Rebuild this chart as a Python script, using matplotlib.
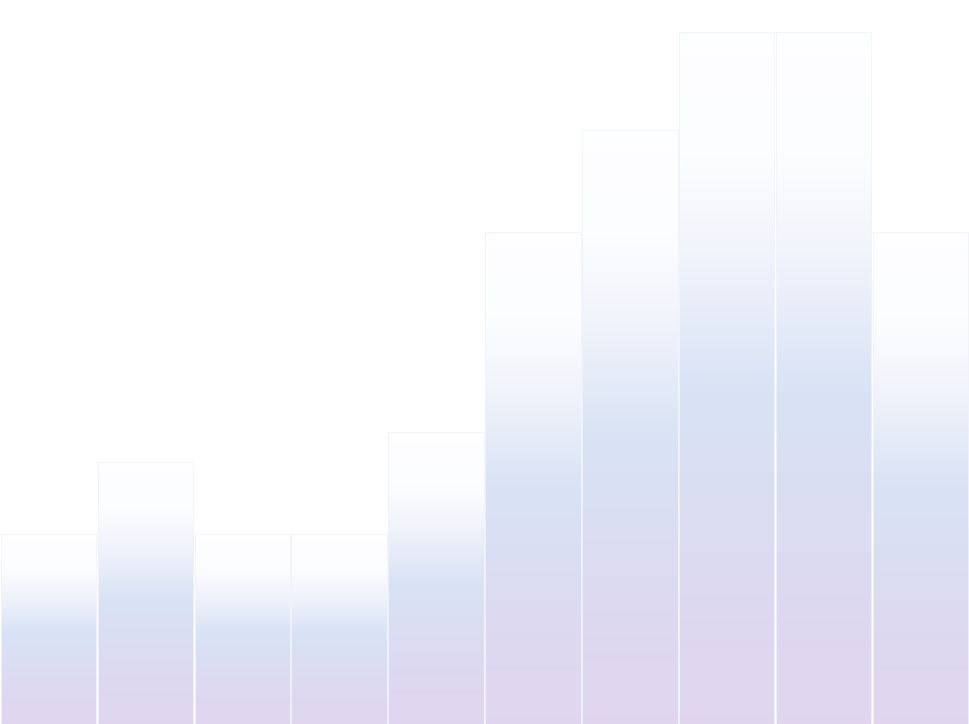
import numpy as np
import matplotlib
matplotlib.use("Agg")
import matplotlib.pyplot as plt
from matplotlib.colors import LinearSegmentedColormap

# bar values (arbitrary units)
categories = ["A", "B", "C", "D", "E", "F", "G", "H", "I", "J"]
values = [19, 26.2, 19, 19, 29.2, 49.2, 59.4, 69.2, 69.2, 49.2]
y_max = 72.4

# gradient from the top of each bar (0) down to its base (1)
grad_stops = [
    (0.0, (0.996, 0.997, 1.0, 1.0)),
    (0.18, (0.988, 0.992, 1.0, 1.0)),
    (0.32, (0.945, 0.956, 0.986, 1.0)),
    (0.52, (0.851, 0.890, 0.961, 1.0)),
    (0.75, (0.863, 0.859, 0.949, 1.0)),
    (0.9, (0.875, 0.841, 0.941, 1.0)),
    (1.0, (0.875, 0.839, 0.941, 1.0)),
]
cmap = LinearSegmentedColormap.from_list("barfade", grad_stops)

fig = plt.figure(figsize=(9.69, 7.24), dpi=100)
ax = fig.add_axes([0, 0, 1, 1])
ax.set_xlim(-0.5, len(categories) - 0.5)
ax.set_ylim(0, y_max)
ax.axis("off")

bars = ax.bar(range(len(categories)), values, width=0.985,
              color="none", edgecolor="#f1f3fa", linewidth=0.6, zorder=3)

grad = np.linspace(0, 1, 256).reshape(-1, 1)
for b in bars:
    x0, w, h = b.get_x(), b.get_width(), b.get_height()
    im = ax.imshow(grad, cmap=cmap, aspect="auto", origin="upper",
                   extent=(x0, x0 + w, 0, h), interpolation="bilinear", zorder=2)
    im.set_clip_path(b)

ax.set_xlim(-0.5, len(categories) - 0.5)
ax.set_ylim(0, y_max)

fig.savefig("out.png", dpi=100, facecolor="white")
